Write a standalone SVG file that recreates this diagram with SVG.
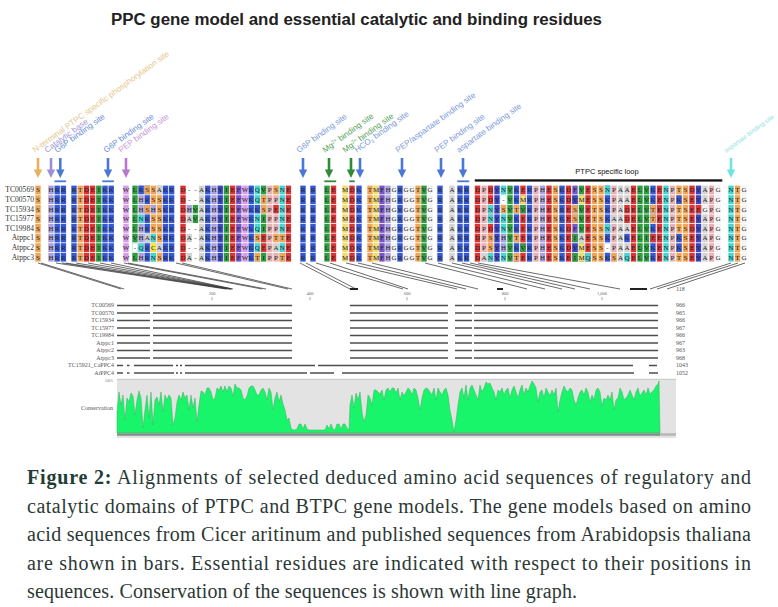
<svg xmlns="http://www.w3.org/2000/svg" xmlns:xlink="http://www.w3.org/1999/xlink" width="778" height="607" viewBox="0 0 778 607">
<style>
.tall rect{width:5.4px;height:76px}
.cell rect{width:5.4px;height:8.8px}
.K{fill:#3558d4}.E{fill:#dc3434}.S{fill:#f1a556}.I{fill:#2f9c42}.N{fill:#47d4d4}.F{fill:#7a56c8}.W{fill:#d89ce8}.Y{fill:#3c46c2}.H{fill:#aaa1dc}.P{fill:#e9b1b5}.G{fill:#f2f2f2}.A{fill:#d3d3d3}.M{fill:#eedc6c}.C{fill:#f2e448}.X{fill:#ffffff}
.seq{font-family:"Liberation Serif",serif;font-size:7px;fill:#222;text-anchor:middle}
.lab{font-family:"Liberation Sans",Arial,sans-serif;font-size:8.2px}
.nm{font-family:"Liberation Serif",serif;font-size:7.6px;fill:#333;text-anchor:end}
.bn{font-family:"Liberation Serif",serif;font-size:6px;fill:#555;text-anchor:end}
.rn{font-family:"Liberation Serif",serif;font-size:6px;fill:#555}
.tk{font-family:"Liberation Serif",serif;font-size:4.5px;fill:#666;text-anchor:middle}
.cap{font-family:"Liberation Serif","Times New Roman",serif;font-size:20px;fill:#2c3836}
.b{font-weight:bold;fill:#1f3d36}
</style>
<defs>
<path id="ar" d="M-1.3 0H1.3V11.5H4.2L0 20L-4.2 11.5H-1.3Z"/>
</defs>
<rect width="778" height="607" fill="#ffffff"/>
<g id="title">
<text x="356.5" y="25" text-anchor="middle" font-family="Liberation Sans,Arial,sans-serif" font-weight="bold" font-size="16" fill="#222" textLength="491" lengthAdjust="spacingAndGlyphs">PPC gene model and essential catalytic and binding residues</text>
</g>
<g id="site-labels" class="lab">
<text transform="translate(35,153) rotate(-36)" fill="#e6c58c">N-terminal PTPC specific phosphorylation site</text>
<text transform="translate(47,153) rotate(-36)" fill="#a397d8">Catalytic base</text>
<text transform="translate(57,153) rotate(-36)" fill="#6b8ed8">G6P binding site</text>
<text transform="translate(106,153) rotate(-36)" fill="#6b8ed8">G6P binding site</text>
<text transform="translate(121,153) rotate(-36)" fill="#c996d9">PEP binding site</text>
<text transform="translate(299,153) rotate(-36)" fill="#7d9ad8">G6P binding site</text>
<text transform="translate(325,153) rotate(-36)" fill="#58a55a">Mg<tspan dy="-2.6" font-size="5">2+</tspan><tspan dy="2.6"> binding site</tspan></text>
<text transform="translate(345,153) rotate(-36)" fill="#58a55a">Mg<tspan dy="-2.6" font-size="5">2+</tspan><tspan dy="2.6"> binding site</tspan></text>
<text transform="translate(357,153) rotate(-36)" fill="#7d9ad8">HCO<tspan dy="1.6" font-size="5">3</tspan><tspan dy="-1.6"> binding site</tspan></text>
<text transform="translate(398,153) rotate(-36)" fill="#7d9ad8">PEP/aspartate binding site</text>
<text transform="translate(437,153) rotate(-36)" fill="#7d9ad8">PEP binding site</text>
<text transform="translate(459,153) rotate(-36)" fill="#7d9ad8">aspartate binding site</text>
<text transform="translate(726,153) rotate(-36)" fill="#8de2e2" font-size="6.2" textLength="60" lengthAdjust="spacingAndGlyphs">aspartate binding site</text>
</g>
<g id="site-arrows">
<use xlink:href="#ar" x="38" y="158" fill="#e5b15e"/>
<use xlink:href="#ar" x="51" y="158" fill="#9b8fd6"/>
<use xlink:href="#ar" x="60.3" y="158" fill="#4a78d4"/>
<use xlink:href="#ar" x="108" y="158" fill="#4a78d4"/>
<use xlink:href="#ar" x="126" y="158" fill="#b878cf"/>
<use xlink:href="#ar" x="303" y="158" fill="#4a78d4"/>
<use xlink:href="#ar" x="329" y="158" fill="#2f8a3a"/>
<use xlink:href="#ar" x="351" y="158" fill="#2f8a3a"/>
<use xlink:href="#ar" x="360" y="158" fill="#4a78d4"/>
<use xlink:href="#ar" x="402" y="158" fill="#4a78d4"/>
<use xlink:href="#ar" x="441" y="158" fill="#4a78d4"/>
<use xlink:href="#ar" x="463" y="158" fill="#4a78d4"/>
<use xlink:href="#ar" x="731" y="158" fill="#6fe3e0"/>
<rect x="54.5" y="180.4" width="11.6" height="1.8" fill="#4a78d4"/>
<rect x="102.3" y="180.4" width="11.6" height="1.8" fill="#4a78d4"/>
<rect x="324.3" y="180.4" width="11.9" height="1.8" fill="#2f8a3a"/>
<rect x="349.3" y="180.4" width="5.4" height="1.8" fill="#2f8a3a"/>
<rect x="457.3" y="180.4" width="11.9" height="1.8" fill="#4a78d4"/>
</g>
<g id="ptpc-loop">
<rect x="474.8" y="179.3" width="247.5" height="2.3" fill="#111"/>
<text x="607" y="174" text-anchor="middle" font-family="Liberation Sans,Arial,sans-serif" font-size="7.5" fill="#111">PTPC specific loop</text>
</g>
<g id="alignment">
<g class="tall">
<rect x="35.3" y="185.6" class="S"/><rect x="48.3" y="185.6" class="H"/><rect x="54.5" y="185.6" class="K"/><rect x="60.7" y="185.6" class="K"/>
<rect x="71.3" y="185.6" class="K"/><rect x="77.5" y="185.6" class="S"/><rect x="83.7" y="185.6" class="E"/><rect x="89.9" y="185.6" class="E"/><rect x="96.1" y="185.6" class="I"/><rect x="102.3" y="185.6" class="K"/><rect x="108.5" y="185.6" class="K"/>
<rect x="123.3" y="185.6" class="W"/>
<rect x="132.3" y="185.6" class="I"/><rect x="138.4" y="185.6" class="H"/><rect x="144.5" y="185.6" class="K"/><rect x="150.6" y="185.6" class="S"/><rect x="156.7" y="185.6" class="S"/><rect x="162.8" y="185.6" class="K"/><rect x="168.9" y="185.6" class="K"/>
<rect x="180.3" y="185.6" class="E"/><rect x="198.9" y="185.6" class="A"/><rect x="205.1" y="185.6" class="K"/><rect x="211.3" y="185.6" class="H"/><rect x="217.5" y="185.6" class="Y"/><rect x="223.7" y="185.6" class="I"/><rect x="229.9" y="185.6" class="E"/><rect x="236.1" y="185.6" class="F"/><rect x="242.3" y="185.6" class="W"/><rect x="248.5" y="185.6" class="K"/><rect x="254.7" y="185.6" class="N"/><rect x="260.9" y="185.6" class="I"/><rect x="267.1" y="185.6" class="P"/><rect x="273.3" y="185.6" class="P"/><rect x="279.5" y="185.6" class="N"/><rect x="285.7" y="185.6" class="E"/>
<rect x="300.3" y="185.6" class="K"/><rect x="310.3" y="185.6" class="K"/>
<rect x="324.3" y="185.6" class="I"/><rect x="330.8" y="185.6" class="E"/>
<rect x="342.3" y="185.6" class="M"/><rect x="349.3" y="185.6" class="E"/><rect x="356.3" y="185.6" class="K"/>
<rect x="367.3" y="185.6" class="S"/><rect x="373.3" y="185.6" class="M"/><rect x="379.3" y="185.6" class="F"/><rect x="385.3" y="185.6" class="H"/><rect x="391.3" y="185.6" class="G"/><rect x="397.3" y="185.6" class="K"/><rect x="403.3" y="185.6" class="G"/><rect x="409.3" y="185.6" class="G"/><rect x="415.3" y="185.6" class="S"/><rect x="421.3" y="185.6" class="I"/><rect x="427.3" y="185.6" class="G"/><rect x="437.3" y="185.6" class="K"/>
<rect x="449.3" y="185.6" class="A"/><rect x="457.3" y="185.6" class="K"/><rect x="463.8" y="185.6" class="K"/>
<rect x="474.8" y="185.6" class="E"/><rect x="481.3" y="185.6" class="P"/><rect x="487.8" y="185.6" class="E"/><rect x="494.3" y="185.6" class="Y"/><rect x="500.8" y="185.6" class="N"/><rect x="507.3" y="185.6" class="I"/><rect x="513.8" y="185.6" class="K"/><rect x="520.3" y="185.6" class="E"/><rect x="526.8" y="185.6" class="K"/><rect x="533.3" y="185.6" class="P"/>
<rect x="539.8" y="185.6" class="H"/><rect x="546.3" y="185.6" class="E"/><rect x="552.8" y="185.6" class="S"/><rect x="559.3" y="185.6" class="K"/><rect x="565.8" y="185.6" class="E"/><rect x="572.3" y="185.6" class="F"/><rect x="578.8" y="185.6" class="I"/><rect x="585.3" y="185.6" class="E"/><rect x="591.8" y="185.6" class="S"/><rect x="598.3" y="185.6" class="S"/>
<rect x="604.8" y="185.6" class="K"/><rect x="611.3" y="185.6" class="P"/><rect x="617.8" y="185.6" class="A"/><rect x="624.3" y="185.6" class="A"/><rect x="630.8" y="185.6" class="E"/><rect x="637.3" y="185.6" class="I"/><rect x="643.8" y="185.6" class="I"/><rect x="650.3" y="185.6" class="K"/><rect x="656.8" y="185.6" class="E"/><rect x="663.3" y="185.6" class="N"/>
<rect x="669.8" y="185.6" class="P"/><rect x="676.3" y="185.6" class="S"/><rect x="682.8" y="185.6" class="S"/><rect x="689.3" y="185.6" class="E"/><rect x="695.8" y="185.6" class="Y"/><rect x="702.3" y="185.6" class="A"/><rect x="708.8" y="185.6" class="P"/><rect x="715.3" y="185.6" class="G"/>
<rect x="728.3" y="185.6" class="N"/><rect x="734.8" y="185.6" class="S"/><rect x="741.3" y="185.6" class="G"/>
</g>
<g class="cell">
<rect x="132.3" y="243.2" class="X"/>
<rect x="138.4" y="185.6" class="K"/><rect x="138.4" y="214.4" class="N"/><rect x="138.4" y="243.2" class="N"/>
<rect x="144.5" y="185.6" class="S"/><rect x="144.5" y="204.8" class="S"/><rect x="144.5" y="233.6" class="A"/>
<rect x="150.6" y="204.8" class="H"/><rect x="150.6" y="233.6" class="N"/><rect x="150.6" y="243.2" class="C"/><rect x="150.6" y="252.8" class="N"/>
<rect x="156.7" y="185.6" class="A"/><rect x="156.7" y="243.2" class="A"/>
<rect x="186.5" y="204.8" class="H"/><rect x="186.5" y="214.4" class="A"/><rect x="186.5" y="233.6" class="A"/><rect x="186.5" y="252.8" class="A"/>
<rect x="192.7" y="204.8" class="I"/><rect x="192.7" y="214.4" class="I"/>
<rect x="254.7" y="204.8" class="K"/><rect x="254.7" y="233.6" class="S"/><rect x="254.7" y="252.8" class="S"/>
<rect x="260.9" y="195.2" class="S"/><rect x="260.9" y="204.8" class="S"/><rect x="260.9" y="233.6" class="E"/><rect x="260.9" y="243.2" class="E"/>
<rect x="273.3" y="185.6" class="S"/><rect x="273.3" y="204.8" class="E"/><rect x="273.3" y="233.6" class="S"/><rect x="273.3" y="243.2" class="A"/>
<rect x="279.5" y="233.6" class="S"/><rect x="279.5" y="252.8" class="S"/>
<rect x="481.3" y="252.8" class="A"/>
<rect x="487.8" y="204.8" class="N"/><rect x="487.8" y="214.4" class="N"/><rect x="487.8" y="252.8" class="N"/><rect x="487.8" y="233.6" class="S"/><rect x="487.8" y="243.2" class="S"/>
<rect x="500.8" y="195.2" class="X"/><rect x="500.8" y="204.8" class="S"/><rect x="500.8" y="233.6" class="H"/><rect x="500.8" y="243.2" class="H"/>
<rect x="513.8" y="204.8" class="S"/><rect x="513.8" y="233.6" class="S"/><rect x="513.8" y="252.8" class="S"/>
<rect x="520.3" y="195.2" class="M"/><rect x="520.3" y="204.8" class="I"/><rect x="520.3" y="243.2" class="I"/>
<rect x="572.3" y="195.2" class="Y"/><rect x="572.3" y="204.8" class="S"/><rect x="572.3" y="214.4" class="S"/><rect x="572.3" y="233.6" class="I"/><rect x="572.3" y="243.2" class="Y"/><rect x="572.3" y="252.8" class="I"/>
<rect x="578.8" y="195.2" class="M"/><rect x="578.8" y="233.6" class="A"/><rect x="578.8" y="243.2" class="M"/><rect x="578.8" y="252.8" class="M"/>
<rect x="585.3" y="252.8" class="N"/>
<rect x="604.8" y="185.6" class="N"/><rect x="604.8" y="224" class="N"/><rect x="604.8" y="243.2" class="X"/>
<rect x="611.3" y="214.4" class="A"/><rect x="611.3" y="252.8" class="S"/>
<rect x="624.3" y="204.8" class="E"/><rect x="624.3" y="214.4" class="E"/><rect x="624.3" y="233.6" class="K"/><rect x="624.3" y="252.8" class="N"/>
<rect x="650.3" y="204.8" class="S"/><rect x="650.3" y="214.4" class="S"/><rect x="650.3" y="233.6" class="E"/>
<rect x="676.3" y="195.2" class="K"/><rect x="676.3" y="233.6" class="K"/><rect x="676.3" y="243.2" class="K"/>
<rect x="695.8" y="204.8" class="E"/>
<rect x="702.3" y="204.8" class="G"/>
</g>
<g fill="#ffffff">
<rect x="34" y="194.4" width="714" height="0.8"/><rect x="34" y="204" width="714" height="0.8"/><rect x="34" y="213.6" width="714" height="0.8"/><rect x="34" y="223.2" width="714" height="0.8"/><rect x="34" y="232.8" width="714" height="0.8"/><rect x="34" y="242.4" width="714" height="0.8"/><rect x="34" y="252" width="714" height="0.8"/>
</g>
<g class="seq">
<text y="192.4" x="38 51 57.2 63.4 74 80.2 86.4 92.6 98.8 105 111.2 126 135 141.1 147.2 153.3 159.4 165.5 171.6 183 189.2 195.4 201.6 207.8 214 220.2 226.4 232.6 238.8 245 251.2 257.4 263.6 269.8 276 282.2 288.4 303 313 327 333.5 345 352 359 370 376 382 388 394 400 406 412 418 424 430 440 452 460 466.5 477.5 484 490.5 497 503.5 510 516.5 523 529.5 536 542.5 549 555.5 562 568.5 575 581.5 588 594.5 601 607.5 614 620.5 627 633.5 640 646.5 653 659.5 666 672.5 679 685.5 692 698.5 705 711.5 718 731 737.5 744">SHRRRTDEIKKWLRSSAKRD--AKHYIEFWKQVPSNERRLEMDKTMFHGRGGTVGRAKRDPDYNVKERPHESKDFVESSNPAAELVKENPTSDYAPGNTG</text>
<text y="202" x="38 51 57.2 63.4 74 80.2 86.4 92.6 98.8 105 111.2 126 135 141.1 147.2 153.3 159.4 165.5 171.6 183 189.2 195.4 201.6 207.8 214 220.2 226.4 232.6 238.8 245 251.2 257.4 263.6 269.8 276 282.2 288.4 303 313 327 333.5 345 352 359 370 376 382 388 394 400 406 412 418 424 430 440 452 460 466.5 477.5 484 490.5 497 503.5 510 516.5 523 529.5 536 542.5 549 555.5 562 568.5 575 581.5 588 594.5 601 607.5 614 620.5 627 633.5 640 646.5 653 659.5 666 672.5 679 685.5 692 698.5 705 711.5 718 731 737.5 744">SHRRRTDEIKKWLHRSSKKD--AKHYIEFWKQTPPNERRLEMDKTMFHGRGGTVGRAKRDPDY-VKMRPHESKDYMESSKPAAELVKENPKSEYAPGNTG</text>
<text y="211.6" x="38 51 57.2 63.4 74 80.2 86.4 92.6 98.8 105 111.2 126 135 141.1 147.2 153.3 159.4 165.5 171.6 183 189.2 195.4 201.6 207.8 214 220.2 226.4 232.6 238.8 245 251.2 257.4 263.6 269.8 276 282.2 288.4 303 313 327 333.5 345 352 359 370 376 382 388 394 400 406 412 418 424 430 440 452 460 466.5 477.5 484 490.5 497 503.5 510 516.5 523 529.5 536 542.5 549 555.5 562 568.5 575 581.5 588 594.5 601 607.5 614 620.5 627 633.5 640 646.5 653 659.5 666 672.5 679 685.5 692 698.5 705 711.5 718 731 737.5 744">SHRRRTDEIKKWLHSHSKRDHVAKHYIEFWKKSPENERRLEMDKTMFHGRGGTVGRAKRDPNYSVTVRPHESRESVETSKPADELVTENPTSEEGPGNTG</text>
<text y="221.2" x="38 51 57.2 63.4 74 80.2 86.4 92.6 98.8 105 111.2 126 135 141.1 147.2 153.3 159.4 165.5 171.6 183 189.2 195.4 201.6 207.8 214 220.2 226.4 232.6 238.8 245 251.2 257.4 263.6 269.8 276 282.2 288.4 303 313 327 333.5 345 352 359 370 376 382 388 394 400 406 412 418 424 430 440 452 460 466.5 477.5 484 490.5 497 503.5 510 516.5 523 529.5 536 542.5 549 555.5 562 568.5 575 581.5 588 594.5 601 607.5 614 620.5 627 633.5 640 646.5 653 659.5 666 672.5 679 685.5 692 698.5 705 711.5 718 731 737.5 744">SHRRRTDEIKKWLNRSSKKDAVAKHYIEFWKNIPPNERRLEMDKTMFHGRGGTVGRAKRDPNYNVKERPHESKESVETSKAADELVTENPTSEYAPGNTG</text>
<text y="230.8" x="38 51 57.2 63.4 74 80.2 86.4 92.6 98.8 105 111.2 126 135 141.1 147.2 153.3 159.4 165.5 171.6 183 189.2 195.4 201.6 207.8 214 220.2 226.4 232.6 238.8 245 251.2 257.4 263.6 269.8 276 282.2 288.4 303 313 327 333.5 345 352 359 370 376 382 388 394 400 406 412 418 424 430 440 452 460 466.5 477.5 484 490.5 497 503.5 510 516.5 523 529.5 536 542.5 549 555.5 562 568.5 575 581.5 588 594.5 601 607.5 614 620.5 627 633.5 640 646.5 653 659.5 666 672.5 679 685.5 692 698.5 705 711.5 718 731 737.5 744">SHRRRTDEIKKWLHRSSKRD--AKHYIEFWKQIPPNERRLEMDKTMFHGRGGTVGRAKRDPDYNVKERPHESKDFVESSNPAAELVKENPTSDYAPGNTG</text>
<text y="240.4" x="38 51 57.2 63.4 74 80.2 86.4 92.6 98.8 105 111.2 126 135 141.1 147.2 153.3 159.4 165.5 171.6 183 189.2 195.4 201.6 207.8 214 220.2 226.4 232.6 238.8 245 251.2 257.4 263.6 269.8 276 282.2 288.4 303 313 327 333.5 345 352 359 370 376 382 388 394 400 406 412 418 424 430 440 452 460 466.5 477.5 484 490.5 497 503.5 510 516.5 523 529.5 536 542.5 549 555.5 562 568.5 575 581.5 588 594.5 601 607.5 614 620.5 627 633.5 640 646.5 653 659.5 666 672.5 679 685.5 692 698.5 705 711.5 718 731 737.5 744">SHRRRTDEIKKWVHANSRKDA-AKHYIEFWKSEPTTERRLEMDKTMFHGRGGTVGRAKRDPSYHVTERPHESKEIAESSKPAKELIEENPKSEYAPGNTG</text>
<text y="250" x="38 51 57.2 63.4 74 80.2 86.4 92.6 98.8 105 111.2 126 135 141.1 147.2 153.3 159.4 165.5 171.6 183 189.2 195.4 201.6 207.8 214 220.2 226.4 232.6 238.8 245 251.2 257.4 263.6 269.8 276 282.2 288.4 303 313 327 333.5 345 352 359 370 376 382 388 394 400 406 412 418 424 430 440 452 460 466.5 477.5 484 490.5 497 503.5 510 516.5 523 529.5 536 542.5 549 555.5 562 568.5 575 581.5 588 594.5 601 607.5 614 620.5 627 633.5 640 646.5 653 659.5 666 672.5 679 685.5 692 698.5 705 711.5 718 731 737.5 744">SHRRRTDEIKKW-QRCAKRD--AKHYIEFWKQEPANERRLEMDKTMFHGRGGTVGRAKRDPSYHVKVRPHESKDYMESS-PAAELVKENPKSEYAPGNTG</text>
<text y="259.6" x="38 51 57.2 63.4 74 80.2 86.4 92.6 98.8 105 111.2 126 135 141.1 147.2 153.3 159.4 165.5 171.6 183 189.2 195.4 201.6 207.8 214 220.2 226.4 232.6 238.8 245 251.2 257.4 263.6 269.8 276 282.2 288.4 303 313 327 333.5 345 352 359 370 376 382 388 394 400 406 412 418 424 430 440 452 460 466.5 477.5 484 490.5 497 503.5 510 516.5 523 529.5 536 542.5 549 555.5 562 568.5 575 581.5 588 594.5 601 607.5 614 620.5 627 633.5 640 646.5 653 659.5 666 672.5 679 685.5 692 698.5 705 711.5 718 731 737.5 744">SHRRRTDEIKKWLHRNSRKDA-AKHYIEFWKTIPPTERRLEMDKTMFHGRGGTVGRAKRDANYNVTERPHESKEIMQSSKSAQELVKENPTSEYAPGNTG</text>
</g>
<g class="nm">
<text x="34" y="192.4">TC00569</text><text x="34" y="202">TC00570</text><text x="34" y="211.6">TC15934</text><text x="34" y="221.2">TC15977</text><text x="34" y="230.8">TC19984</text><text x="34" y="240.4">Atppc1</text><text x="34" y="250">Atppc2</text><text x="34" y="259.6">Atppc3</text>
</g>
</g>
<g id="connectors" fill="none" stroke="#3a3a3a" stroke-width="0.75">
<path d="M38 263L121 289M41 263L124 289M56 263L226 289M62 263L228 289M66 263L230 289M76 263L231 289M88 263L231 289M100 263L232 289M111 263L233 289M124 263L262 289M128 263L266 289M176 263L288 289M182 263L292 289M300 263L350 289M306 263L356 289M316 263L403 289M330 263L408 289M346 263L457 289M358 263L466 289M372 263L478 289M425 263L527 289M438 263L545 289M452 263L562 289M462 263L575 289M470 263L590 289M478 263L620 289M731 263L650 289M738 263L657 289M745 263L667 289"/>
<path d="M350 289H358M497 289H503M630 289H647" stroke-width="1.8" stroke="#222"/>
</g>
<g id="ruler">
<g class="tk"><text x="212" y="294.5">200</text><text x="310" y="294.5">400</text><text x="407" y="294.5">600</text><text x="505" y="294.5">800</text><text x="602" y="294.5">1,000</text></g>
<path d="M212 297V300.5M310 297V300.5M407 297V300.5M505 297V300.5M602 297V300.5" stroke="#777" stroke-width="0.6"/>
<text x="676" y="291" class="rn">118</text>
</g>
<g id="gene-bars">
<g class="bn">
<text x="114" y="307.3">TC00569</text><text x="114" y="314.8">TC00570</text><text x="114" y="322.3">TC15934</text><text x="114" y="329.8">TC15977</text><text x="114" y="337.3">TC19984</text><text x="114" y="344.8">Atppc1</text><text x="114" y="352.3">Atppc2</text><text x="114" y="359.8">Atppc3</text><text x="114" y="367.3">TC15921_CaPPC4</text><text x="114" y="374.8">AtPPC4</text>
</g>
<g class="rn">
<text x="676" y="307.3">966</text><text x="676" y="314.8">965</text><text x="676" y="322.3">966</text><text x="676" y="329.8">967</text><text x="676" y="337.3">966</text><text x="676" y="344.8">967</text><text x="676" y="352.3">963</text><text x="676" y="359.8">968</text><text x="676" y="367.3">1043</text><text x="676" y="374.8">1052</text>
</g>
<g stroke="#4d4d4d" stroke-width="1.7" fill="none">
<path d="M117 305.5H150M153 305.5H292M350 305.5H448M455 305.5H472M474 305.5H658"/>
<path d="M117 313H150M153 313H292M350 313H448M455 313H472M474 313H658"/>
<path d="M117 320.5H150M153 320.5H292M350 320.5H448M455 320.5H472M474 320.5H658"/>
<path d="M117 328H150M153 328H292M350 328H448M455 328H472M474 328H658"/>
<path d="M117 335.5H150M153 335.5H292M350 335.5H448M455 335.5H472M474 335.5H658"/>
<path d="M117 343H150M153 343H292M350 343H448M455 343H472M474 343H658"/>
<path d="M117 350.5H150M153 350.5H292M350 350.5H448M455 350.5H472M474 350.5H658"/>
<path d="M117 358H150M153 358H292M350 358H448M455 358H472M474 358H658"/>
<path d="M117 365.5H123M127 365.5H129.5M134 365.5H173M176 365.5H178M180 365.5H182M185 365.5H315M318 365.5H633M649 365.5H657"/>
<path d="M117 373H123M127 373H129.5M134 373H174M176 373H178M180 373H182M185 373H307M310 373H334M342 373H634M649 373H658"/>
</g>
</g>
<g id="conservation">
<rect x="117" y="379" width="559" height="59" fill="#e3e3e3"/>
<path d="M117 379.3H676" stroke="#bdbdbd" stroke-width="0.8"/>
<polygon fill="#19f56a" stroke="#3aae5c" stroke-width="0.5" points="117,433 117,412 119,392 121,405 123,395 125,420 127,398 129,402 131,393 133,396 135,415 137,400 139,391 141,398 143,428 145,410 147,395 149,418 151,392 153,425 155,400 157,397 159,405 161,392 163,412 165,395 167,400 169,395 171,398 173,425 175,418 177,402 179,395 181,400 183,392 185,398 187,395 189,410 191,395 193,408 195,398 197,422 199,405 201,391 203,392 205,395 207,388 209,388 211,392 213,400 215,398 217,388 219,390 221,386 223,392 225,386 227,392 229,386 231,388 233,396 235,384 237,388 239,388 241,390 243,398 245,400 247,396 249,388 251,386 253,386 255,390 257,395 259,395 261,390 263,388 265,392 267,400 269,388 271,392 273,410 275,398 277,392 279,402 281,395 283,404 285,410 287,420 289,418 291,428 293,430 295,430 297,429 299,424 301,424 303,429 305,424 307,429 309,430 313,430 317,430 321,430 325,430 327,425 329,429 331,424 333,429 335,430 337,424 339,424 341,429 343,424 345,424 347,428 349,430 350,405 352,395 354,408 356,393 358,400 360,392 362,412 364,422 366,415 368,395 370,398 372,405 374,390 376,390 378,392 380,394 382,390 384,400 386,390 388,388 390,392 392,388 394,388 396,393 398,388 400,400 402,392 404,396 406,392 408,388 410,390 412,395 414,388 416,390 418,398 420,410 422,398 424,390 426,388 428,389 430,392 432,395 434,388 436,400 438,388 440,392 442,395 444,390 446,388 448,395 450,410 452,420 454,432 456,420 458,405 460,392 462,388 464,398 466,385 468,400 470,388 472,385 474,390 476,395 478,400 480,385 482,392 484,388 486,382 488,384 490,383 492,388 494,392 496,400 498,390 500,392 502,388 504,395 506,390 508,388 510,398 512,390 514,386 516,392 518,398 520,390 522,385 524,395 526,388 528,392 530,386 532,381 534,384 536,388 538,402 540,392 542,390 544,398 546,388 548,392 550,396 552,390 554,395 556,388 558,412 560,400 562,392 564,386 566,390 568,392 570,388 572,390 574,400 576,405 578,398 580,392 582,390 584,395 586,388 588,392 590,402 592,395 594,400 596,390 598,388 600,392 602,406 604,398 606,400 608,395 610,400 612,392 614,410 616,400 618,398 620,388 622,392 624,400 626,398 628,395 630,390 632,395 634,400 636,392 638,388 640,396 642,393 644,390 646,395 648,388 650,394 652,392 654,390 656,386 658,384 659,381 660,433"/>
<rect x="117" y="433.2" width="543" height="2.6" fill="#8c8c8c"/>
<rect x="660" y="433.2" width="16" height="2.6" fill="#b9b9b9"/>
<text x="113" y="409.5" class="bn">Conservation</text>
<text x="113" y="381.5" font-family="Liberation Serif,serif" font-size="3.5" fill="#777" text-anchor="end">100%</text>
</g>
<g id="caption" class="cap">
<text x="27" y="484" textLength="724" lengthAdjust="spacing"><tspan class="b">Figure 2:</tspan> Alignments of selected deduced amino acid sequences of regulatory and</text>
<text x="27" y="512.5" textLength="724" lengthAdjust="spacing">catalytic domains of PTPC and BTPC gene models. The gene models based on amino</text>
<text x="27" y="541" textLength="724" lengthAdjust="spacing">acid sequences from Cicer aritinum and published sequences from Arabidopsis thaliana</text>
<text x="27" y="569.5" textLength="724" lengthAdjust="spacing">are shown in bars. Essential residues are indicated with respect to their positions in</text>
<text x="27" y="598" textLength="550" lengthAdjust="spacing">sequences. Conservation of the sequences is shown with line graph.</text>
</g>
</svg>
